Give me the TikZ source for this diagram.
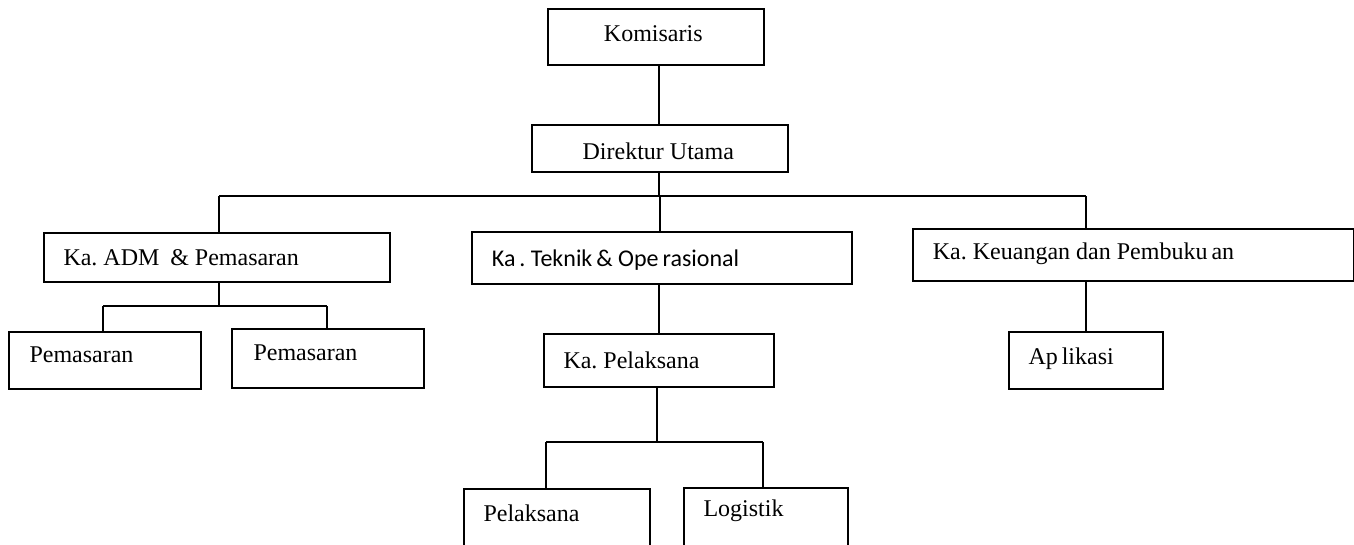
\documentclass[tikz,border=0pt]{standalone}
\usepackage{fontspec}
\setmainfont{Liberation Serif}
\newfontfamily\calfont{Carlito}
\frenchspacing
\begin{document}
\begin{tikzpicture}[x=1pt,y=-1pt,
  box/.style={draw,line width=2pt,rectangle,inner sep=0pt,anchor=north west},
  txt/.style={inner sep=0pt,anchor=west,font=\fontsize{24}{28}\selectfont},
  ctxt/.style={inner sep=0pt,anchor=center,font=\fontsize{24}{28}\selectfont},
  conn/.style={line width=2pt}]
\useasboundingbox (0,0) rectangle (1354,544);
\clip (0,0) rectangle (1354,544);
% boxes
\node[box,minimum width=216pt,minimum height=56pt] (kom) at (547,8) {};
\node[box,minimum width=256pt,minimum height=47pt] (dir) at (531,124) {};
\node[box,minimum width=346pt,minimum height=49pt] (adm) at (43,232) {};
\node[box,minimum width=380pt,minimum height=52pt] (tek) at (471,231) {};
\node[box,minimum width=441pt,minimum height=52pt] (keu) at (912,228) {};
\node[box,minimum width=192pt,minimum height=57pt] (pem1) at (8,331) {};
\node[box,minimum width=192pt,minimum height=59pt] (pem2) at (231,328) {};
\node[box,minimum width=230pt,minimum height=53pt] (kpel) at (543,333) {};
\node[box,minimum width=154pt,minimum height=57pt] (apl) at (1008,331) {};
\node[box,minimum width=186pt,minimum height=90pt] (pel) at (463,488) {};
\node[box,minimum width=164pt,minimum height=90pt] (log) at (683,487) {};
% texts
\node[ctxt] (komT) at (653.3,33.5) {Komisaris};
\node[ctxt] (dirT) at (658.3,151.5) {Direktur Utama};
\node[txt] (admT) at (63.3,258) {Ka. ADM\hspace{0.45em}\& Pemasaran};
\node[txt,font=\calfont\fontsize{24}{28}\selectfont] (tekT) at (491.7,260) {Ka\,. Teknik\,\& Ope\,rasional};
\node[txt] (keuT) at (932.7,254) {Ka. Keuangan dan Pembuku\,an};
\node[txt] (pem1T) at (29.3,355) {Pemasaran};
\node[txt] (pem2T) at (253.3,352.7) {Pemasaran};
\node[txt] (kpelT) at (563.3,360) {Ka. Pelaksana};
\node[txt] (aplT) at (1028.3,358.3) {Ap\,likasi};
\node[txt] (pelT) at (483.3,513.3) {Pelaksana};
\node[txt] (logT) at (703.3,510.7) {Logistik};
% junctions
\coordinate (busM) at (659,196);
\coordinate (busL) at (219,196);
\coordinate (busC) at (660,196);
\coordinate (busR) at (1086,196);
\coordinate (admJ) at (219,306);
\coordinate (admL) at (103,306);
\coordinate (admR) at (327,306);
\coordinate (tekJ) at (659,283);
\coordinate (keuJ) at (1086,280);
\coordinate (kpelJ) at (657,442);
\coordinate (kpelL) at (546,442);
\coordinate (kpelR) at (763,442);
% connectors
\draw[conn] (kom.south -| busM) -- (dir.north -| busM);
\draw[conn] (dir.south -| busM) -- (busM);
\draw[conn] (busL) -- (busR);
\draw[conn] (busL) -- (busL |- adm.north);
\draw[conn] (busC) -- (busC |- tek.north);
\draw[conn] (busR) -- (busR |- keu.north);
\draw[conn] (adm.south -| admJ) -- (admJ);
\draw[conn] (admL) -- (admR);
\draw[conn] (admL) -- (admL |- pem1.north);
\draw[conn] (admR) -- (admR |- pem2.north);
\draw[conn] (tek.south -| tekJ) -- (tekJ |- kpel.north);
\draw[conn] (keu.south -| keuJ) -- (keuJ |- apl.north);
\draw[conn] (kpel.south -| kpelJ) -- (kpelJ);
\draw[conn] (kpelL) -- (kpelR);
\draw[conn] (kpelL) -- (kpelL |- pel.north);
\draw[conn] (kpelR) -- (kpelR |- log.north);
\end{tikzpicture}
\end{document}
